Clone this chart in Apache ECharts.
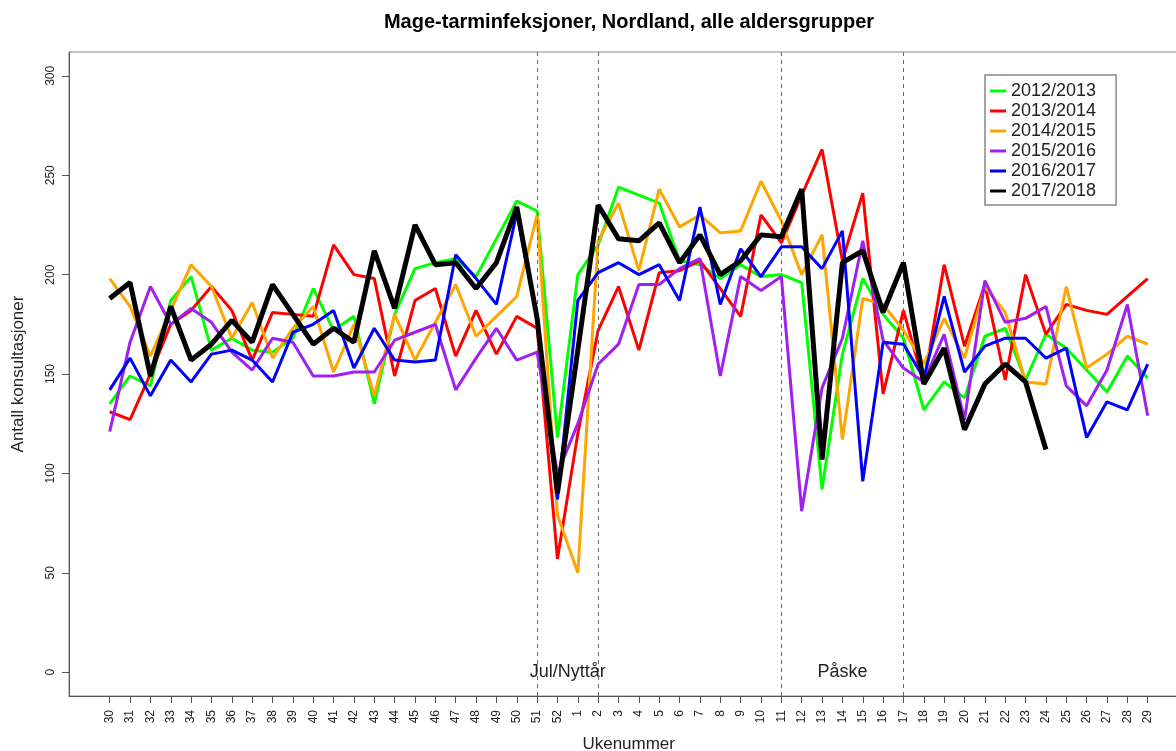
<!DOCTYPE html>
<html>
<head>
<meta charset="utf-8">
<title>Mage-tarminfeksjoner, Nordland</title>
<script src="https://cdn.jsdelivr.net/npm/echarts@6.0.0/dist/echarts.min.js"></script>
<style>
  html, body { margin: 0; padding: 0; background: #fff; }
  #chart { width: 1176px; height: 751px; }
</style>
</head>
<body>
<div id="chart"></div>
<script>
// ukenummer, sesongen starter i uke 30
const weeks = ['30', '31', '32', '33', '34', '35', '36', '37', '38', '39', '40', '41', '42', '43', '44', '45',
  '46', '47', '48', '49', '50', '51', '52', '1', '2', '3', '4', '5', '6', '7', '8', '9', '10', '11', '12', '13',
  '14', '15', '16', '17', '18', '19', '20', '21', '22', '23', '24', '25', '26', '27', '28', '29'];

const seasons = ['2012/2013', '2013/2014', '2014/2015', '2015/2016', '2016/2017', '2017/2018'];

// antall konsultasjoner per uke
const s2012 = [135, 149, 144, 187, 199, 162, 168, 162, 161, 168, 193, 172, 179, 135, 180, 203, 206, 208, 199, 218, 237, 232, 118,
  200, 215, 244, 240, 236, 207, 205, 198, 205, 199, 200, 196, 92, 160, 198, 180, 168, 132, 146, 138, 169, 173, 147, 170, 163, 152, 141, 159, 148];
const s2013 = [131, 127, 150, 175, 182, 194, 182, 157, 181, 180, 179, 215, 200, 198, 149, 187, 193, 159, 182, 160, 179, 173, 57,
  120, 172, 194, 162, 201, 202, 207, 193, 179, 230, 216, 240, 263, 207, 241, 140, 182, 145, 205, 164, 195, 147, 200, 170, 185, 182, 180, 189, 198];
const s2014 = [198, 184, 159, 182, 205, 194, 168, 186, 158, 173, 184, 151, 175, 139, 180, 157, 176, 195, 169, 179, 189, 230, 79,
  50, 217, 236, 202, 243, 224, 230, 221, 222, 247, 227, 200, 220, 117, 188, 185, 172, 155, 178, 158, 194, 181, 146, 145, 194, 153, 160, 169, 165];
const s2015 = [121, 166, 194, 175, 183, 176, 161, 152, 168, 166, 149, 149, 151, 151, 167, 171, 175, 142, 158, 173, 157, 161, 100,
  125, 155, 165, 195, 195, 203, 208, 149, 199, 192, 199, 81, 143, 168, 217, 167, 153, 146, 170, 127, 197, 176, 178, 184, 144, 134, 152, 185, 129];
const s2016 = [142, 158, 139, 157, 146, 160, 162, 157, 146, 171, 175, 182, 153, 173, 157, 156, 157, 210, 198, 185, 231, 178, 87,
  187, 201, 206, 200, 205, 187, 234, 185, 213, 199, 214, 214, 203, 222, 96, 166, 165, 148, 189, 151, 164, 168, 168, 158, 163, 118, 136, 132, 155];
const s2017 = [188, 196, 149, 184, 157, 165, 177, 166, 195, 180, 165, 173, 166, 212, 183, 225, 205, 206, 193, 206, 234, 178, 90,
  162, 235, 218, 217, 226, 206, 220, 200, 207, 220, 219, 243, 107, 206, 212, 181, 206, 145, 163, 122, 145, 155, 146, 112,
  null, null, null, null, null];

const yTicks = [0, 50, 100, 150, 200, 250, 300];
// stiplede linjer: jul/nyttår og påske
const markWeeks = ['51', '2', '11', '17'];
const periods = [['51', '2', 'Jul/Nyttår'], ['11', '17', 'Påske']];

const allValues = [s2012, s2013, s2014, s2015, s2016, s2017];
const colors = ['#00ff00', '#ff0000', '#ffa500', '#a020f0', '#0000ff', '#000000'];
const widths = [3, 3, 3, 3, 3, 5];

// to tomme kategorier på hver side, slik at aksen går litt utenfor dataene
const padStart = ['p0', 'p1'];
const padEnd = ['p2', 'p3'];
const xData = [...padStart, ...weeks, ...padEnd];
const isWeek = (i) => i >= padStart.length && i < padStart.length + weeks.length;

const font = "'Liberation Sans', Arial, Helvetica, sans-serif";

const series = seasons.map((name, k) => {
  const s = {
    name: name,
    type: 'line',
    data: [null, null, ...allValues[k], null, null],
    color: colors[k],
    symbol: 'none',
    lineStyle: { width: widths[k], color: colors[k] },
    z: 2 + k,
  };
  if (k === 0) {
    s.markLine = {
      silent: true,
      symbol: 'none',
      label: { show: false },
      lineStyle: { color: '#666', type: [4, 4], width: 1 },
      data: markWeeks.map((w) => ({ xAxis: w })),
    };
    s.markArea = {
      silent: true,
      itemStyle: { color: 'rgba(0,0,0,0)' },
      label: { show: true, position: 'inside', fontSize: 18, color: '#222', fontFamily: font },
      data: periods.map((p) => [{ name: p[2], xAxis: p[0], yAxis: -10 }, { xAxis: p[1], yAxis: 10 }]),
    };
  }
  return s;
});

const chart = echarts.init(document.getElementById('chart'));
chart.setOption({
  animation: false,
  backgroundColor: '#fff',
  textStyle: { fontFamily: font },
  title: {
    text: 'Mage-tarminfeksjoner, Nordland, alle aldersgrupper',
    left: 629,
    top: 12,
    padding: 0,
    textAlign: 'center',
    textStyle: { fontSize: 20, fontWeight: 'bold', color: '#000', fontFamily: font },
  },
  legend: {
    data: seasons,
    orient: 'vertical',
    left: 985,
    top: 75,
    padding: [7, 20, 5, 5],
    itemGap: 2,
    itemWidth: 16,
    itemHeight: 3,
    icon: 'rect',
    borderColor: '#888',
    borderWidth: 1.5,
    backgroundColor: '#fff',
    textStyle: { fontSize: 18, lineHeight: 18, color: '#222', fontFamily: font },
  },
  grid: {
    left: 69,
    top: 52,
    width: 1119.4,
    height: 644,
    outerBoundsMode: 'none',
    show: true,
    borderColor: '#888',
    borderWidth: 1,
  },
  xAxis: {
    type: 'category',
    data: xData,
    boundaryGap: false,
    name: 'Ukenummer',
    nameLocation: 'middle',
    nameGap: 40,
    nameTextStyle: { fontSize: 17, color: '#222', fontFamily: font },
    axisLine: { onZero: false, lineStyle: { color: '#555', width: 1 } },
    axisTick: { interval: isWeek, length: 7, lineStyle: { color: '#555' } },
    axisLabel: { interval: isWeek, rotate: 90, margin: 14, fontSize: 12, color: '#222', fontFamily: font },
    splitLine: { show: false },
  },
  yAxis: {
    type: 'value',
    min: -12,
    max: 312,
    name: 'Antall konsultasjoner',
    nameLocation: 'middle',
    nameRotate: 90,
    nameGap: 42,
    nameTextStyle: { fontSize: 17, color: '#222', fontFamily: font },
    axisLine: { show: true, lineStyle: { color: '#555', width: 1 } },
    axisTick: { show: true, customValues: yTicks, length: 7, lineStyle: { color: '#555' } },
    axisLabel: { customValues: yTicks, rotate: 90, margin: 12, fontSize: 12, color: '#222', fontFamily: font },
    splitLine: { show: false },
  },
  series: series,
});
</script>
</body>
</html>
